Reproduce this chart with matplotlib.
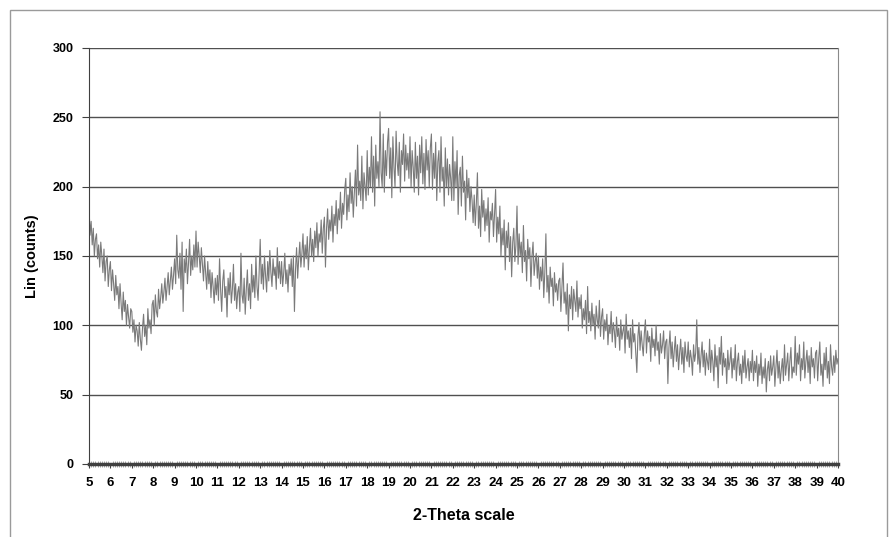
import numpy as np
import matplotlib
matplotlib.use("Agg")
import matplotlib.pyplot as plt
from matplotlib.patches import Rectangle

# 2-theta from 5.0 to 40.0 in 0.05 steps, counts
theta_start = 5.0
theta_step = 0.05
counts_by_degree = {
    5: [186, 165, 175, 158, 170, 150, 162, 166, 148, 158, 142, 160, 150, 138, 155, 132, 146, 150, 128, 140],
    6: [146, 125, 140, 130, 118, 136, 122, 128, 112, 130, 116, 104, 124, 110, 118, 100, 115, 106, 98, 112],
    7: [110, 95, 104, 88, 100, 96, 85, 102, 90, 82, 98, 108, 92, 100, 86, 112, 98, 104, 94, 115],
    8: [118, 100, 122, 110, 106, 126, 112, 120, 130, 116, 124, 134, 118, 128, 138, 122, 132, 142, 126, 136],
    9: [148, 130, 165, 140, 134, 152, 126, 160, 110, 148, 138, 155, 130, 145, 162, 136, 150, 140, 158, 142],
    10: [168, 142, 160, 150, 138, 156, 144, 132, 150, 138, 126, 146, 130, 140, 120, 138, 128, 116, 134, 122],
    11: [136, 118, 148, 126, 110, 132, 140, 120, 128, 106, 134, 122, 138, 116, 126, 144, 118, 130, 112, 124],
    12: [128, 110, 152, 122, 116, 134, 108, 126, 140, 118, 130, 112, 144, 124, 136, 120, 150, 128, 118, 138],
    13: [162, 130, 144, 126, 150, 136, 124, 146, 132, 154, 138, 128, 148, 136, 142, 126, 156, 134, 146, 130],
    14: [146, 128, 138, 152, 130, 140, 124, 144, 136, 148, 128, 150, 110, 140, 156, 134, 148, 160, 142, 152],
    15: [166, 142, 158, 148, 164, 140, 156, 170, 150, 162, 146, 168, 156, 174, 150, 166, 160, 176, 152, 170],
    16: [178, 142, 170, 184, 162, 176, 168, 186, 160, 180, 172, 190, 166, 184, 176, 196, 170, 188, 180, 198],
    17: [206, 176, 194, 182, 210, 188, 200, 178, 196, 212, 186, 230, 194, 204, 190, 222, 184, 210, 200, 190],
    18: [226, 194, 214, 200, 236, 196, 222, 186, 230, 206, 218, 200, 254, 210, 200, 238, 196, 226, 208, 232],
    19: [242, 206, 228, 192, 236, 214, 200, 240, 218, 208, 232, 196, 226, 216, 238, 204, 230, 212, 224, 206],
    20: [236, 200, 226, 214, 196, 232, 206, 222, 194, 230, 210, 236, 202, 224, 198, 234, 212, 226, 200, 228],
    21: [238, 198, 224, 206, 232, 190, 218, 226, 196, 236, 204, 214, 186, 228, 200, 220, 194, 216, 206, 190],
    22: [236, 190, 218, 200, 226, 180, 208, 214, 186, 222, 196, 204, 176, 212, 192, 206, 182, 200, 190, 174],
    23: [194, 172, 188, 210, 170, 186, 164, 198, 178, 190, 168, 184, 172, 192, 160, 182, 176, 188, 164, 180],
    24: [198, 160, 178, 166, 186, 150, 170, 158, 176, 140, 168, 156, 174, 146, 164, 135, 160, 170, 146, 158],
    25: [186, 144, 166, 150, 160, 138, 172, 146, 154, 132, 162, 148, 156, 128, 150, 160, 136, 146, 152, 134],
    26: [150, 126, 142, 132, 148, 120, 138, 166, 124, 136, 116, 142, 128, 134, 114, 138, 124, 130, 118, 132],
    27: [134, 110, 128, 145, 116, 124, 108, 130, 96, 122, 112, 128, 104, 126, 118, 110, 132, 106, 120, 112],
    28: [122, 98, 112, 104, 118, 94, 128, 102, 110, 96, 116, 100, 108, 90, 114, 104, 98, 118, 92, 106],
    29: [112, 90, 104, 96, 108, 86, 100, 94, 110, 88, 102, 96, 84, 106, 92, 98, 82, 104, 90, 96],
    30: [100, 80, 108, 90, 96, 84, 98, 76, 104, 88, 94, 80, 66, 92, 102, 82, 96, 86, 78, 94],
    31: [104, 80, 96, 88, 92, 74, 98, 84, 90, 78, 100, 82, 88, 72, 94, 80, 86, 96, 76, 88],
    32: [90, 58, 84, 96, 76, 88, 70, 82, 92, 74, 86, 68, 80, 90, 72, 84, 66, 88, 78, 74],
    33: [88, 70, 82, 76, 64, 86, 74, 80, 104, 72, 84, 66, 78, 88, 70, 82, 64, 80, 74, 68],
    34: [90, 66, 82, 74, 60, 86, 70, 78, 55, 84, 72, 92, 64, 80, 70, 76, 58, 82, 68, 74],
    35: [84, 62, 76, 68, 86, 60, 74, 80, 64, 72, 58, 78, 66, 82, 62, 70, 76, 60, 74, 66],
    36: [82, 60, 74, 66, 78, 56, 72, 64, 80, 58, 70, 62, 76, 52, 68, 74, 60, 78, 64, 70],
    37: [78, 56, 70, 82, 62, 74, 58, 68, 76, 60, 86, 64, 72, 80, 60, 74, 84, 62, 70, 66],
    38: [92, 64, 80, 72, 86, 60, 76, 68, 88, 62, 74, 82, 66, 78, 58, 84, 70, 76, 62, 80],
    39: [82, 60, 76, 88, 64, 72, 56, 80, 68, 84, 62, 74, 58, 86, 70, 64, 78, 66, 82, 72],
    40: [76],
}
x_ticks = list(range(5, 41))
y_ticks = [0, 50, 100, 150, 200, 250, 300]

counts = [c for d in sorted(counts_by_degree) for c in counts_by_degree[d]]
theta = theta_start + theta_step * np.arange(len(counts))

plt.rcParams['font.family'] = ['Liberation Sans Narrow', 'Liberation Sans', 'DejaVu Sans']

fig = plt.figure(figsize=(8.92, 5.37), dpi=100)
# outer chart frame
fig.patches.append(Rectangle((10 / 892, -0.05), 877 / 892, 1.05 - 10 / 537,
                             transform=fig.transFigure, fill=False,
                             edgecolor='#9a9a9a', linewidth=1.0))

ax = fig.add_axes([89 / 892, 1 - 464 / 537, 749 / 892, 416 / 537])
ax.plot(theta, counts, color='#7a7a7a', linewidth=0.8)

ax.set_xlim(5, 40)
ax.set_ylim(0, 300)
ax.set_xticks(x_ticks)
ax.set_xticks(np.arange(5, 40.01, 0.1), minor=True)
ax.set_yticks(y_ticks)
ax.yaxis.grid(True, color='#505050', linewidth=1.0)
ax.set_axisbelow(True)

ax.spines['top'].set_visible(False)
ax.spines['right'].set_color('#8a8a8a')
ax.spines['left'].set_color('#404040')
ax.spines['bottom'].set_color('#404040')
ax.spines['bottom'].set_linewidth(2.5)

ax.tick_params(axis='y', direction='out', length=5, width=0.8, color='#404040',
               labelsize=9, pad=6)
ax.tick_params(axis='x', which='major', direction='out', length=3, width=0.8,
               color='#404040', labelsize=9.5, pad=6)
ax.tick_params(axis='x', which='minor', direction='inout', length=4, width=0.4,
               color='#606060')
for lbl in ax.get_xticklabels() + ax.get_yticklabels():
    lbl.set_fontweight('bold')

ax.set_ylabel('Lin (counts)', fontsize=10.5, fontweight='bold', labelpad=10)
ax.set_xlabel('2-Theta scale', fontsize=11.5, fontweight='bold', labelpad=14)

fig.savefig('out.png', dpi=100)
